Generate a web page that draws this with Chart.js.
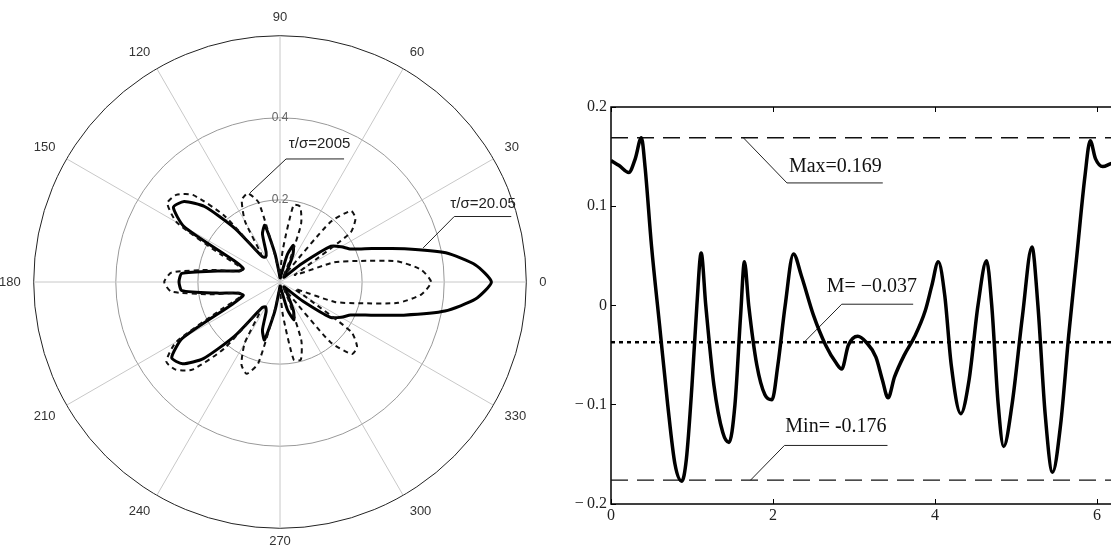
<!DOCTYPE html>
<html lang="en">
<head>
<meta charset="UTF-8">
<title>Polar pattern and profile</title>
<script src="https://cdn.jsdelivr.net/npm/chart.js@4"></script>
<style>
  html, body { margin: 0; padding: 0; background: #fff; overflow: hidden; width: 1111px; height: 546px; }
  .box { position: absolute; }
  #polarBox { left: -8px; top: 1px; width: 562px; height: 562px; }
  #lineBox { left: 560px; top: 0; width: 570px; height: 546px; }
</style>
</head>
<body>
<div id="polarBox" class="box"><canvas id="polarChart"></canvas></div>
<div id="lineBox" class="box"><canvas id="lineChart"></canvas></div>

<script>
// ---- left: polar pattern, radius every 5 deg (0 = right, counter-clockwise) ----
const angles = [0, 5, 10, 15, 20, 25, 30, 35, 40, 45, 50, 55, 60, 65, 70, 75, 80, 85,
  90, 95, 100, 105, 110, 115, 120, 125, 130, 135, 140, 145, 150, 155, 160, 165, 170, 175,
  180, 185, 190, 195, 200, 205, 210, 215, 220, 225, 230, 235, 240, 245, 250, 255, 260, 265,
  270, 275, 280, 285, 290, 295, 300, 305, 310, 315, 320, 325, 330, 335, 340, 345, 350, 355];

// tau/sigma = 20.05 (solid)
const rSolid = [0.515, 0.478, 0.41, 0.314, 0.238, 0.19, 0.172, 0.152, 0.07, 0.025, 0.015, 0.02,
  0.04, 0.075, 0.095, 0.07, 0.02, 0.01, 0.01, 0.02, 0.07, 0.143, 0.125, 0.08,
  0.07, 0.075, 0.17, 0.26, 0.305, 0.317, 0.27, 0.125, 0.095, 0.104, 0.154, 0.24,
  0.246, 0.24, 0.156, 0.105, 0.095, 0.128, 0.275, 0.322, 0.31, 0.264, 0.172, 0.077,
  0.07, 0.08, 0.125, 0.146, 0.072, 0.02, 0.01, 0.01, 0.02, 0.07, 0.098, 0.078,
  0.04, 0.02, 0.015, 0.025, 0.072, 0.15, 0.172, 0.19, 0.236, 0.312, 0.408, 0.478];

// tau/sigma = 2005 (dashed)
const rDashed = [0.368, 0.345, 0.29, 0.198, 0.14, 0.04, 0.07, 0.21, 0.24, 0.245, 0.19, 0.03,
  0.02, 0.05, 0.15, 0.19, 0.19, 0.08, 0.02, 0.02, 0.06, 0.2, 0.23, 0.22,
  0.17, 0.08, 0.21, 0.3, 0.33, 0.335, 0.29, 0.16, 0.1, 0.1, 0.17, 0.265,
  0.282, 0.266, 0.172, 0.102, 0.1, 0.158, 0.292, 0.338, 0.332, 0.302, 0.212, 0.082,
  0.172, 0.222, 0.238, 0.205, 0.062, 0.02, 0.02, 0.082, 0.192, 0.196, 0.152, 0.052,
  0.02, 0.03, 0.192, 0.248, 0.245, 0.212, 0.072, 0.04, 0.142, 0.2, 0.292, 0.346];

const angleTicks = [0, 30, 60, 90, 120, 150, 180, 210, 240, 270, 300, 330];
const radialMax = 0.6;
const radialStep = 0.2;

// notes on the polar plot: [angle, radius]
const polarNotes = [
  { text: 'τ/σ=2005', at: [74, 0.35], path: [[108.6, 0.229], [87.2, 0.300], [62.5, 0.338]] },
  { text: 'τ/σ=20.05', at: [21, 0.53], path: [[13.4, 0.3585], [20.6, 0.4535], [15.8, 0.5855]] }
];

// ---- right: profile over one period ----
const profileX = [0, 0.1, 0.22, 0.3, 0.375, 0.42, 0.5, 0.6, 0.7, 0.79, 0.874, 0.93, 1.0, 1.06, 1.113,
  1.17, 1.27, 1.38, 1.457, 1.53, 1.6, 1.647, 1.7, 1.8, 1.9, 1.987, 2.06, 2.15, 2.252,
  2.35, 2.5, 2.65, 2.78, 2.848, 2.93, 3.046, 3.15, 3.27, 3.35, 3.42, 3.5, 3.62, 3.75, 3.88, 3.96, 4.04,
  4.12, 4.2, 4.318, 4.42, 4.53, 4.636, 4.7, 4.78, 4.847, 4.95, 5.08, 5.196,
  5.27, 5.36, 5.45, 5.55, 5.65, 5.75, 5.85, 5.916, 5.98, 6.07, 6.17, 6.283];
const profileY = [0.146, 0.141, 0.134, 0.148, 0.169, 0.14, 0.06, -0.02, -0.1, -0.16, -0.177, -0.155, -0.08, 0.0, 0.053,
  0.0, -0.08, -0.128, -0.138, -0.1, -0.01, 0.044, 0.0, -0.06, -0.09, -0.095, -0.06, 0.0, 0.052,
  0.03, -0.01, -0.04, -0.058, -0.064, -0.04, -0.031, -0.037, -0.052, -0.075, -0.093, -0.072, -0.05, -0.031, -0.005, 0.02, 0.044,
  0.01, -0.06, -0.109, -0.075, 0.0, 0.045, 0.0, -0.1, -0.142, -0.1, -0.01, 0.059,
  0.0, -0.11, -0.168, -0.12, -0.03, 0.05, 0.13, 0.166, 0.148, 0.14, 0.143, 0.146];

const xEnd = 6.2832;
const maxVal = 0.169;
const minVal = -0.176;
const meanVal = -0.037;

const lineNotes = [
  { text: 'Max=0.169', at: [2.77, 0.140], path: [[1.634, 0.169], [2.172, 0.1235], [3.355, 0.1235]] },
  { text: 'M= \u22120.037', at: [3.22, 0.0184], path: [[2.384, -0.037], [2.848, 0.0013], [3.73, 0.0013]] },
  { text: 'Min= -0.176', at: [2.777, -0.1225], path: [[1.722, -0.176], [2.141, -0.141], [3.413, -0.141]] }
];

// ---------------- polar chart (radar with 5 deg spokes) ----------------
const step = 360 / angles.length;
const order = angles.map((_, i) => angles.indexOf(((90 - i * step) % 360 + 360) % 360));
const polarLabels = order.map(k => angles[k]);

const polarNotesPlugin = {
  id: 'polarNotes',
  afterDatasetsDraw(chart) {
    const s = chart.scales.r;
    const ctx = chart.ctx;
    const pos = ([a, r]) => {
      const d = s.getDistanceFromCenterForValue(r);
      const t = a * Math.PI / 180;
      return [s.xCenter + d * Math.cos(t), s.yCenter - d * Math.sin(t)];
    };
    ctx.save();
    ctx.strokeStyle = '#222';
    ctx.lineWidth = 1;
    ctx.fillStyle = '#222';
    ctx.font = '15px "Liberation Sans", Arial, sans-serif';
    ctx.textAlign = 'center';
    ctx.textBaseline = 'middle';
    polarNotes.forEach(n => {
      ctx.beginPath();
      n.path.forEach((p, i) => {
        const [x, y] = pos(p);
        if (i === 0) ctx.moveTo(x, y); else ctx.lineTo(x, y);
      });
      ctx.stroke();
      const [tx, ty] = pos(n.at);
      ctx.fillText(n.text, tx, ty);
    });
    ctx.restore();
  }
};

new Chart(document.getElementById('polarChart'), {
  type: 'radar',
  data: {
    labels: polarLabels,
    datasets: [
      {
        label: 'τ/σ=2005',
        data: order.map(k => rDashed[k]),
        borderColor: '#111',
        borderWidth: 2,
        borderDash: [5, 4],
        fill: false,
        tension: 0.2,
        pointRadius: 0
      },
      {
        label: 'τ/σ=20.05',
        data: order.map(k => rSolid[k]),
        borderColor: '#000',
        borderWidth: 3,
        borderJoinStyle: 'round',
        fill: false,
        tension: 0.2,
        pointRadius: 0
      }
    ]
  },
  options: {
    responsive: true,
    maintainAspectRatio: false,
    animation: false,
    plugins: { legend: { display: false }, tooltip: { enabled: false } },
    scales: {
      r: {
        min: 0,
        max: radialMax,
        ticks: {
          stepSize: radialStep,
          showLabelBackdrop: false,
          color: '#666',
          font: { family: '"Liberation Sans", Arial, sans-serif', size: 12 },
          callback: v => (Math.abs(v - radialMax) < 1e-9 ? '' : v.toFixed(1))
        },
        grid: {
          circular: true,
          color: c => (c.index === 3 ? '#222' : '#999'),
          lineWidth: 1
        },
        angleLines: {
          color: '#c8c8c8',
          lineWidth: c => (c.label === '' ? 0 : 1)
        },
        pointLabels: {
          color: '#333',
          padding: c => (c.label === '270' ? 0 : 5),
          font: { family: '"Liberation Sans Narrow", "Liberation Sans", Arial, sans-serif', size: 13, lineHeight: 0.8 },
          callback: l => (angleTicks.includes(l) ? String(l) : '')
        }
      }
    }
  },
  plugins: [polarNotesPlugin]
});

// ---------------- right chart ----------------
const framePlugin = {
  id: 'frame',
  beforeDatasetsDraw(chart) {
    const a = chart.chartArea;
    const ctx = chart.ctx;
    ctx.save();
    ctx.strokeStyle = '#000';
    ctx.lineWidth = 1.5;
    ctx.strokeRect(a.left, a.top, a.right - a.left, a.bottom - a.top);
    ctx.restore();
  }
};

const lineNotesPlugin = {
  id: 'lineNotes',
  afterDatasetsDraw(chart) {
    const {x, y} = chart.scales;
    const ctx = chart.ctx;
    ctx.save();
    ctx.fillStyle = '#111';
    ctx.font = '20px "Liberation Serif", "Times New Roman", serif';
    ctx.textAlign = 'center';
    ctx.textBaseline = 'middle';
    lineNotes.forEach(n => {
      ctx.fillText(n.text, x.getPixelForValue(n.at[0]), y.getPixelForValue(n.at[1]));
    });
    ctx.restore();
  }
};

const flat = v => [{ x: 0, y: v }, { x: xEnd, y: v }];
const leader = n => ({
  data: n.path.map(p => ({ x: p[0], y: p[1] })),
  borderColor: '#222',
  borderWidth: 1,
  pointRadius: 0,
  tension: 0
});

const tickFont = { family: '"Liberation Serif", "Times New Roman", serif', size: 16 };

new Chart(document.getElementById('lineChart'), {
  type: 'line',
  data: {
    datasets: [
      {
        label: 'profile',
        data: profileX.map((x, i) => ({ x, y: profileY[i] })),
        borderColor: '#000',
        borderWidth: 3.5,
        borderJoinStyle: 'round',
        cubicInterpolationMode: 'monotone',
        pointRadius: 0
      },
      { label: 'Max', data: flat(maxVal), borderColor: '#111', borderWidth: 1.3, borderDash: [17, 9], pointRadius: 0 },
      { label: 'Min', data: flat(minVal), borderColor: '#111', borderWidth: 1.3, borderDash: [17, 9], pointRadius: 0 },
      { label: 'M', data: flat(meanVal), borderColor: '#000', borderWidth: 2.5, borderDash: [4, 4], pointRadius: 0 },
      ...lineNotes.map(leader)
    ]
  },
  options: {
    responsive: true,
    maintainAspectRatio: false,
    animation: false,
    layout: { padding: { top: 107, right: 10, left: 0, bottom: 0 } },
    plugins: { legend: { display: false }, tooltip: { enabled: false } },
    scales: {
      x: {
        type: 'linear',
        min: 0,
        max: xEnd,
        ticks: {
          stepSize: 2,
          includeBounds: false,
          maxRotation: 0,
          padding: 2,
          color: '#222',
          font: tickFont,
          callback: v => String(v)
        },
        grid: { color: '#000', lineWidth: 1, drawTicks: false },
        border: {
          display: false,
          dash: c => {
            const a = c.chart.chartArea;
            return a ? [5, a.bottom - a.top - 10, 5, 4000] : [];
          }
        },
        afterFit: s => { s.height = 42; }
      },
      y: {
        min: -0.2,
        max: 0.2,
        ticks: {
          stepSize: 0.1,
          padding: 4,
          color: '#222',
          font: tickFont,
          callback: v => (Math.abs(v) < 1e-9 ? '0' : v < 0 ? '\u2212\u2009' + Math.abs(v).toFixed(1) : v.toFixed(1))
        },
        grid: { color: '#000', lineWidth: 1, drawTicks: false },
        border: { display: false, dash: [5, 4000] },
        afterFit: s => { s.width = 51; }
      }
    }
  },
  plugins: [framePlugin, lineNotesPlugin]
});
</script>
</body>
</html>
